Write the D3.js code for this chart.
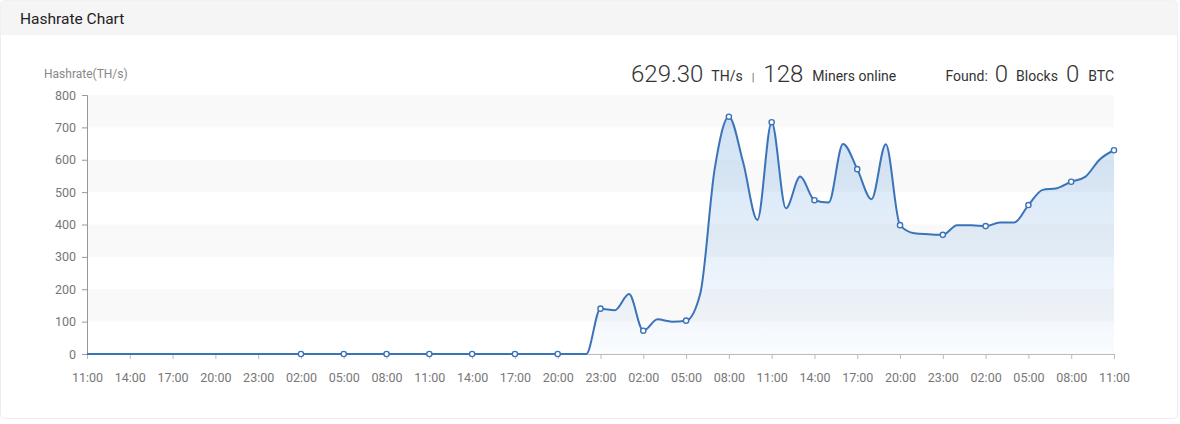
<!DOCTYPE html>
<html>
<head>
<meta charset="utf-8">
<script src="https://cdn.jsdelivr.net/npm/d3@7/dist/d3.min.js"></script>
<style>
  html, body { margin: 0; padding: 0; background: #ffffff; }
  body { width: 1180px; height: 424px; overflow: hidden; font-family: Roboto, "Open Sans", sans-serif; }
</style>
</head>
<body>
<svg id="chart" width="1180" height="424"></svg>
<script>
// ---- data ----
const title = "Hashrate Chart";
const yAxisName = "Hashrate(TH/s)";
const tickLabels = ["11:00","14:00","17:00","20:00","23:00","02:00","05:00","08:00","11:00",
  "14:00","17:00","20:00","23:00","02:00","05:00","08:00","11:00",
  "14:00","17:00","20:00","23:00","02:00","05:00","08:00","11:00"];
// hourly hashrate values (TH/s), 73 points from 11:00 to 11:00 three days later
const hashrate = [
  0,0,0,0,0,0,0,0,0,0,0,0,
  0,0,0,0,0,0,0,0,0,0,0,0,
  0,0,0,0,0,0,0,0,0,0,0,0,
  140,135,185,72,107,100,103,188,570,733,592,414,
  716,450,548,475,468,649,571,478,648,398,373,370,
  368,398,398,395,406,406,460,507,512,532,548,601,
  629.3
];
const yTicks = [0,100,200,300,400,500,600,700,800];
const stats = { hashrate: "629.30", unit: "TH/s", miners: "128", blocks: "0", btc: "0" };
const markerStart = 15; // first labelled point that shows a marker

// ---- layout ----
const W = 1180, H = 424;
const plot = { left: 87, right: 1114, top: 95, bottom: 354 };
const lineColor = "#3b73b9";

const svg = d3.select("#chart");
const defs = svg.append("defs");
const grad = defs.append("linearGradient").attr("id", "areaGrad")
  .attr("x1", 0).attr("y1", 0).attr("x2", 0).attr("y2", 1);
grad.append("stop").attr("offset", "0%").attr("stop-color", "#4a8fd8").attr("stop-opacity", 0.26);
grad.append("stop").attr("offset", "100%").attr("stop-color", "#4a8fd8").attr("stop-opacity", 0.03);

// panel
svg.append("rect").attr("x", 0.5).attr("y", 0.5).attr("width", W - 3).attr("height", H - 6)
  .attr("rx", 4).attr("fill", "#fff").attr("stroke", "#ececec");
svg.append("path")
  .attr("d", `M0.5,35 V4.5 Q0.5,0.5 4.5,0.5 H${W - 6.5} Q${W - 2.5},0.5 ${W - 2.5},4.5 V35 Z`)
  .attr("fill", "#f5f5f5");
svg.append("text").attr("x", 20).attr("y", 23.5).attr("font-size", 15.5).attr("fill", "#222")
  .text(title);

// scales
const x = d3.scalePoint().domain(d3.range(hashrate.length)).range([plot.left, plot.right]);
const y = d3.scaleLinear().domain([0, 800]).range([plot.bottom, plot.top]);

// split areas
const bands = svg.append("g");
for (let i = 0; i < yTicks.length - 1; i++) {
  const v0 = yTicks[i], v1 = yTicks[i + 1];
  if (i % 2 === 1) {
    bands.append("rect").attr("x", plot.left).attr("width", plot.right - plot.left)
      .attr("y", y(v1)).attr("height", y(v0) - y(v1)).attr("fill", "#f9f9f9");
  }
}

// y axis
const yAxis = d3.axisLeft(y).tickValues(yTicks).tickSize(5).tickPadding(6).tickFormat(d3.format("d"));
const gy = svg.append("g").attr("transform", `translate(${plot.left},0)`).call(yAxis);
gy.select(".domain").attr("stroke", "#999");
gy.selectAll(".tick line").attr("stroke", "#999");
gy.selectAll("text").attr("font-size", 12.5).attr("fill", "#777").attr("font-family", "Roboto, sans-serif");

// x axis
const tickIdx = d3.range(0, hashrate.length, 3);
const xAxis = d3.axisBottom(x).tickValues(tickIdx).tickSize(5).tickPadding(14)
  .tickFormat((d, i) => tickLabels[i]);
const gx = svg.append("g").attr("transform", `translate(0,${plot.bottom})`).call(xAxis);
gx.select(".domain").attr("stroke", "#bbb");
gx.selectAll(".tick line").attr("stroke", "#bbb");
gx.selectAll("text").attr("font-size", 12.5).attr("fill", "#777").attr("font-family", "Roboto, sans-serif");

// y axis name
svg.append("text").attr("x", 44).attr("y", 78).attr("font-size", 12).attr("fill", "#888")
  .text(yAxisName);

// area + line
const curve = d3.curveMonotoneX;
const area = d3.area().x((d, i) => x(i)).y0(y(0)).y1(d => y(d)).curve(curve);
const line = d3.line().x((d, i) => x(i)).y(d => y(d)).curve(curve);
svg.append("path").datum(hashrate).attr("d", area).attr("fill", "url(#areaGrad)");
svg.append("path").datum(hashrate).attr("d", line).attr("fill", "none")
  .attr("stroke", lineColor).attr("stroke-width", 2).attr("stroke-linejoin", "round");

// markers
svg.append("g").selectAll("circle")
  .data(hashrate.map((v, i) => ({ v, i })).filter(d => d.i % 3 === 0 && d.i >= markerStart))
  .join("circle")
  .attr("cx", d => x(d.i)).attr("cy", d => y(d.v)).attr("r", 2.6)
  .attr("fill", "#fff").attr("stroke", lineColor).attr("stroke-width", 1.4);

// stats
const big = 24, small = 14;
const left = svg.append("text").attr("x", 631).attr("y", 82).attr("fill", "#333");
left.append("tspan").attr("font-size", big).attr("font-weight", 300).text(stats.hashrate);
left.append("tspan").attr("font-size", small).attr("dx", 8).attr("dy", -1).text(stats.unit);
left.append("tspan").attr("font-size", 11).attr("dx", 9).attr("fill", "#666").text("|");
left.append("tspan").attr("font-size", big).attr("font-weight", 300).attr("dx", 9).attr("dy", 1).text(stats.miners);
left.append("tspan").attr("font-size", small).attr("dx", 9).attr("dy", -1).text("Miners online");

const right = svg.append("text").attr("x", 1114).attr("y", 81).attr("fill", "#333").attr("text-anchor", "end");
right.append("tspan").attr("font-size", small).text("Found:");
right.append("tspan").attr("font-size", big).attr("font-weight", 300).attr("dx", 7).attr("dy", 1).text(stats.blocks);
right.append("tspan").attr("font-size", small).attr("dx", 8).attr("dy", -1).text("Blocks");
right.append("tspan").attr("font-size", big).attr("font-weight", 300).attr("dx", 8).attr("dy", 1).text(stats.btc);
right.append("tspan").attr("font-size", small).attr("dx", 9).attr("dy", -1).text("BTC");
</script>
</body>
</html>
